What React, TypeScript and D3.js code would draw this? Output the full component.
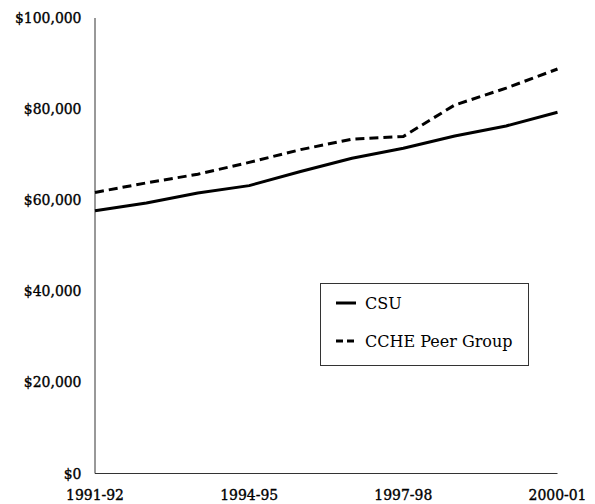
import React from "react";
import * as d3 from "d3";

const categories = ["1991-92","1992-93","1993-94","1994-95","1995-96","1996-97","1997-98","1998-99","1999-00","2000-01"];
const tickCategories = ["1991-92","1994-95","1997-98","2000-01"];
const csu = [57700, 59400, 61600, 63200, 66300, 69200, 71400, 74100, 76300, 79300];
const peer = [61700, 63800, 65700, 68300, 71100, 73400, 74000, 80900, 84600, 88800];
const yTicks = [0, 20000, 40000, 60000, 80000, 100000];
const seriesNames = ["CSU", "CCHE Peer Group"];

export default function App() {
  const W = 595, H = 504;
  const left = 95, right = 557.5, top = 18, bottom = 473.5;
  const x = d3.scalePoint<string>().domain(categories).range([left, right]);
  const y = d3.scaleLinear().domain([0, 100000]).range([bottom, top]);
  const line = d3.line<number>().x((_, i) => x(categories[i])!).y(d => y(d));
  const fmt = (v: number) => "$" + d3.format(",")(v);
  const tickFont = { fontFamily: "'DejaVu Serif Condensed', 'DejaVu Serif', serif", fontStretch: "condensed", fontSize: 15.5, fontWeight: 400 as const, fill: "#000", stroke: "#000", strokeWidth: 0.35 };
  const legFont = { fontFamily: "'DejaVu Serif', serif", fontSize: 16, fill: "#000" };
  return (
    <svg width={W} height={H} style={{ position: "absolute", left: 0, top: 0, background: "#fff" }}>
      <line x1={left} x2={left} y1={top} y2={bottom} stroke="#333" strokeWidth={1} />
      <line x1={left} x2={right} y1={bottom} y2={bottom} stroke="#333" strokeWidth={1} />
      {yTicks.map(t => (
        <text key={t} x={81.5} y={y(t)} textAnchor="end" dominantBaseline="central" style={{ fontStretch: "condensed" }} {...tickFont}>{fmt(t)}</text>
      ))}
      {tickCategories.map(c => (
        <text key={c} x={x(c)} y={495} textAnchor="middle" dominantBaseline="central" style={{ fontStretch: "condensed" }} {...tickFont}>{c}</text>
      ))}
      <path d={line(csu)!} fill="none" stroke="#000" strokeWidth={3} strokeLinejoin="round" />
      <path d={line(peer)!} fill="none" stroke="#000" strokeWidth={3} strokeDasharray="9,5" />
      <rect x={320.5} y={283.5} width={208} height={82} fill="#fff" stroke="#333" strokeWidth={1} />
      <line x1={336} x2={356} y1={303} y2={303} stroke="#000" strokeWidth={3} />
      <text x={365} y={303} dominantBaseline="central" {...legFont}>{seriesNames[0]}</text>
      <line x1={336} x2={356} y1={341} y2={341} stroke="#000" strokeWidth={3} strokeDasharray="7,4" />
      <text x={365} y={341} dominantBaseline="central" {...legFont}>{seriesNames[1]}</text>
    </svg>
  );
}
